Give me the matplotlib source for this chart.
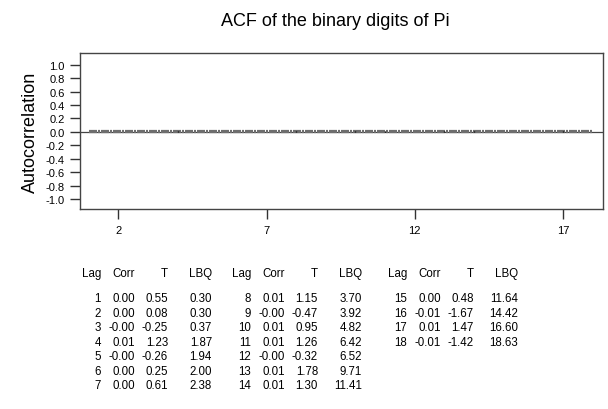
import matplotlib
matplotlib.use("Agg")
import matplotlib.pyplot as plt

plt.rcParams['font.family'] = ['Liberation Sans', 'DejaVu Sans']

# ACF table (Minitab style output)
lags = list(range(1, 19))
corr = [0.00, 0.00, -0.00, 0.01, -0.00, 0.00, 0.00,
        0.01, -0.00, 0.01, 0.01, -0.00, 0.01, 0.01,
        0.00, -0.01, 0.01, -0.01]
tval = [0.55, 0.08, -0.25, 1.23, -0.26, 0.25, 0.61,
        1.15, -0.47, 0.95, 1.26, -0.32, 1.78, 1.30,
        0.48, -1.67, 1.47, -1.42]
lbq = [0.30, 0.30, 0.37, 1.87, 1.94, 2.00, 2.38,
       3.70, 3.92, 4.82, 6.42, 6.52, 9.71, 11.41,
       11.64, 14.42, 16.60, 18.63]
sig_limit = 0.005   # significance limits are tiny here (huge n)

xticks = [2, 7, 12, 17]
yticks = [-1.0, -0.8, -0.6, -0.4, -0.2, 0.0, 0.2, 0.4, 0.6, 0.8, 1.0]

W, H = 608, 410
fig = plt.figure(figsize=(W / 100, H / 100), dpi=100)
ax = fig.add_axes([80 / W, 1 - 210 / H, (603 - 80) / W, (210 - 54) / H])

ax.axhline(0, color='#444444', lw=0.9, zorder=1)
ax.vlines(lags, 0, corr, color='black', lw=1.0, zorder=3)
for s in (1, -1):
    ax.plot(lags, [s * sig_limit] * len(lags), color='#6e6e6e', lw=1.6,
            linestyle=(0, (3.6, 0.45, 0.9, 0.45)), zorder=2)

ax.set_xlim(0.707, 18.35)
ax.set_ylim(-1.15, 1.174)
ax.set_xticks(xticks)
ax.set_yticks(yticks)
ax.set_yticklabels(['%.1f' % v for v in yticks])
ax.tick_params(axis='both', direction='out', length=7, width=1,
               color='#333333', labelsize=8)
ax.tick_params(axis='x', pad=4.5)
ax.tick_params(axis='y', pad=4)
for sp in ax.spines.values():
    sp.set_color('#444444')
    sp.set_linewidth(1.0)
ax.set_ylabel('Autocorrelation', fontsize=13, labelpad=5)

fig.text(335 / W, 1 - 21 / H, 'ACF of the binary digits of Pi',
         fontsize=13, ha='center', va='center')

# session window style table under the chart
block_x = [101, 251, 407]
col_dx = [0, 34, 67, 111]
headers = ['Lag', 'Corr', 'T', 'LBQ']
header_y = 274
row_y0 = 299.5
row_dy = 14.45
fs = 8.3

for b, bx in enumerate(block_x):
    for h, dx in zip(headers, col_dx):
        fig.text((bx + dx) / W, 1 - header_y / H, h, fontsize=fs,
                 ha='right', va='center')
    for r in range(7):
        i = b * 7 + r
        if i >= len(lags):
            break
        y = 1 - (row_y0 + r * row_dy) / H
        vals = ['%d' % lags[i], '%.2f' % corr[i], '%.2f' % tval[i],
                '%.2f' % lbq[i]]
        for v, dx in zip(vals, col_dx):
            if v == '0.00' and dx == 34 and str(corr[i]).startswith('-'):
                v = '-0.00'
            fig.text((bx + dx) / W, y, v, fontsize=fs, ha='right',
                     va='center')

fig.savefig('out.png', dpi=100)
